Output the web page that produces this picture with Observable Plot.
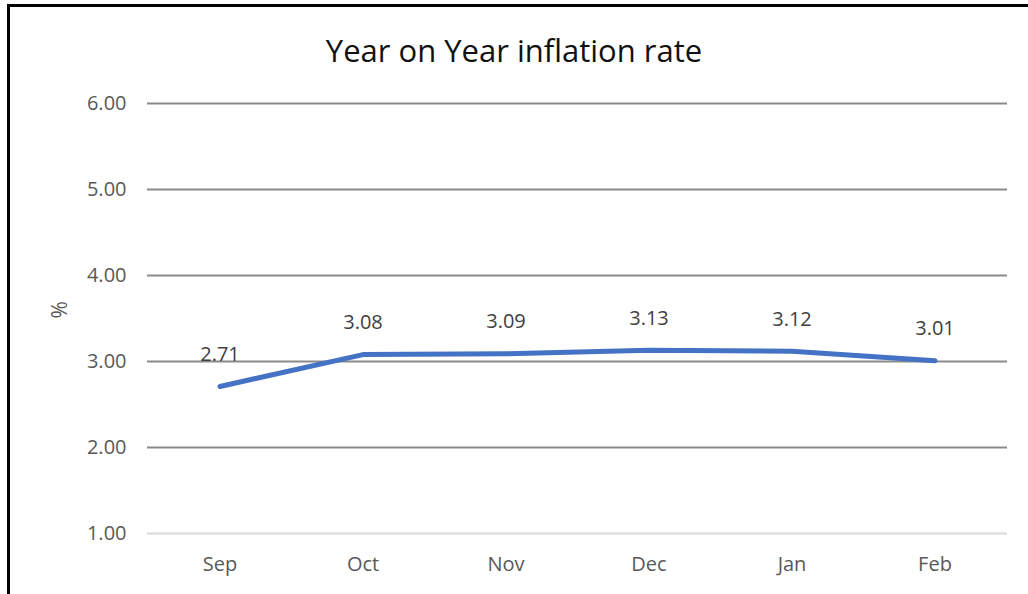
<!DOCTYPE html>
<html>
<head>
<meta charset="utf-8">
<script src="https://cdn.jsdelivr.net/npm/d3@7"></script>
<script src="https://cdn.jsdelivr.net/npm/@observablehq/plot@0.6"></script>
<style>
  html, body { margin: 0; padding: 0; background: #fff; }
  #wrap { position: relative; width: 1028px; height: 594px; overflow: hidden; font-family: "Open Sans", Lato, sans-serif; }
  #frame { position: absolute; left: 7px; top: 4px; right: -10px; bottom: -10px; border-left: 3px solid #000; border-top: 3px solid #000; pointer-events: none; }
  #title { position: absolute; left: 0; top: 0; width: 1028px; height: 80px; }
  #title h1 { margin: 0; position: absolute; width: 100%; top: 30px; text-align: center; font-weight: 400; font-size: 31px; color: #111; line-height: 40px; font-family: "Open Sans", Lato, sans-serif; }
  #chart { position: absolute; left: 0; top: 80px; }
</style>
</head>
<body>
<div id="wrap">
  <div id="title"><h1>Year on Year inflation rate</h1></div>
  <div id="chart"></div>
  <div id="frame"></div>
</div>
<script>
const months = ["Sep", "Oct", "Nov", "Dec", "Jan", "Feb"];
const rates = [2.71, 3.08, 3.09, 3.13, 3.12, 3.01];
const yTicks = [1, 2, 3, 4, 5, 6];

const data = months.map((m, i) => ({month: m, rate: rates[i]}));

const plot = Plot.plot({
  width: 1028,
  height: 514,
  marginTop: 23,
  marginBottom: 61,
  marginLeft: 147,
  marginRight: 21,
  style: {fontFamily: "'Open Sans', Lato, sans-serif", fontSize: "20px", color: "#595959", background: "transparent"},
  x: {type: "band", domain: months, label: null, padding: 0},
  y: {domain: [1, 6], label: null},
  marks: [
    Plot.ruleY(yTicks.filter(d => d > 1), {stroke: "#8a8a8a", strokeWidth: 2}),
    Plot.ruleY([1], {stroke: "#d9d9d9", strokeWidth: 2}),
    Plot.axisY({ticks: yTicks, tickFormat: d => d.toFixed(2), tickSize: 0, tickPadding: 21, fontSize: 20, fill: "#595959", label: null}),
    Plot.axisX({tickSize: 0, tickPadding: 23, fontSize: 20, fill: "#595959", label: null}),
    Plot.text(["%"], {frameAnchor: "left", dx: -87, rotate: -90, fontSize: 21, fill: "#595959"}),
    Plot.line(data, {x: "month", y: "rate", stroke: "#4472C4", strokeWidth: 5, strokeLinecap: "round", strokeLinejoin: "round"}),
    Plot.text(data, {x: "month", y: "rate", text: d => d.rate.toFixed(2), dy: -32, fontSize: 20, fill: "#404040"})
  ]
});
document.getElementById("chart").appendChild(plot);
</script>
</body>
</html>
